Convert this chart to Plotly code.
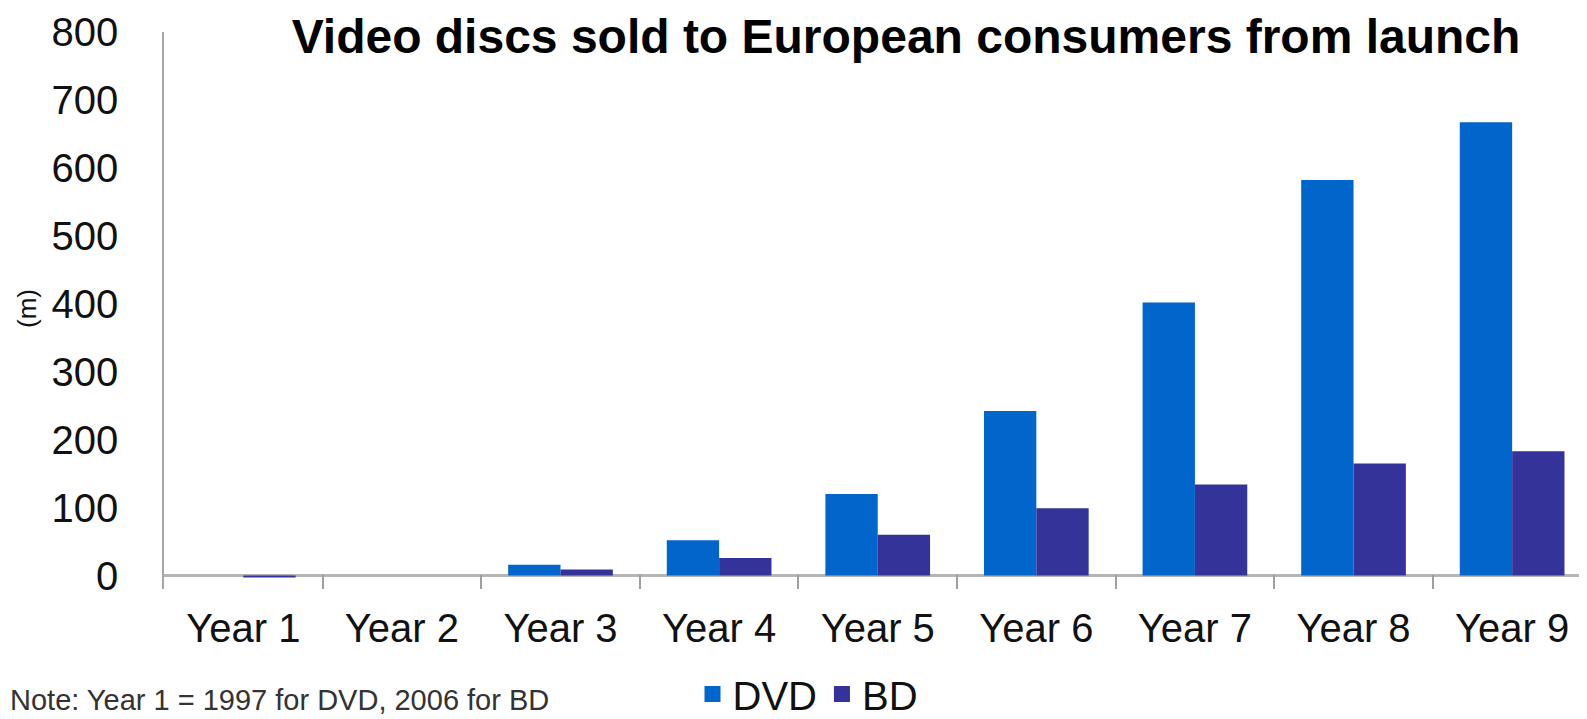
import plotly.graph_objects as go

categories = ["Year 1", "Year 2", "Year 3", "Year 4", "Year 5", "Year 6", "Year 7", "Year 8", "Year 9"]
dvd = [0, 0, 16, 52, 120, 242, 402, 582, 667]
bd = [-3, 0, 9, 26, 60, 99, 134, 165, 183]
y_ticks = [0, 100, 200, 300, 400, 500, 600, 700, 800]

title_text = "Video discs sold to European consumers from launch"
note_text = "Note: Year 1 = 1997 for DVD, 2006 for BD"
y_title = "(m)"

FONT = "Liberation Sans, Arial, sans-serif"
DVD_COLOR = "#0066CC"
BD_COLOR = "#333399"

OFF = 8  # page body margin
W, H = 1587 - OFF, 719 - OFF
ML, MT = 164 - OFF, 32 - OFF
PB = 589 - OFF          # plot bottom (figure px)
MR, MB = 0, H - PB
PW = W - ML - MR
PH = PB - MT


def py(y_page):
    """page y pixel -> paper fraction"""
    return (PB - (y_page - OFF)) / PH


def px(x_page):
    return ((x_page - OFF) - ML) / PW


fig = go.Figure()
fig.add_trace(go.Bar(x=categories, y=dvd, name="DVD", marker=dict(color=DVD_COLOR, line=dict(width=0)),
                     showlegend=False))
fig.add_trace(go.Bar(x=categories, y=bd, name="BD", marker=dict(color=BD_COLOR, line=dict(width=0)),
                     showlegend=False))
# legend entries with larger square symbols
fig.add_trace(go.Scatter(x=[None], y=[None], mode="markers", name="DVD",
                         marker=dict(symbol="square", size=16, color=DVD_COLOR)))
fig.add_trace(go.Scatter(x=[None], y=[None], mode="markers", name="BD",
                         marker=dict(symbol="square", size=16, color=BD_COLOR)))

fig.update_layout(
    width=W, height=H,
    margin=dict(l=ML, r=MR, t=MT, b=MB, pad=0, autoexpand=False),
    paper_bgcolor="white", plot_bgcolor="white",
    barmode="group", bargap=0.34, bargroupgap=0,
    font=dict(family=FONT, color="#111111", size=40),
    title=dict(text="<b>" + title_text + "</b>", x=(906 - OFF) / W, xanchor="center",
               y=1 - (36 - OFF) / H, yanchor="middle", yref="container", automargin=False,
               font=dict(family=FONT, size=48, color="#000000")),
    legend=dict(orientation="h", x=px(808), xanchor="center",
                y=py(694), yanchor="middle",
                font=dict(family=FONT, size=40, color="#111111"),
                itemsizing="trace", itemwidth=30, tracegroupgap=0),
    xaxis=dict(type="category", range=[-0.5, 8.472], tickson="boundaries", automargin=False,
               ticks="inside", ticklen=14, tickcolor="#A0A0A0", tickwidth=1.5,
               showline=False, showgrid=False, zeroline=False,
               tickfont=dict(family=FONT, size=40, color="#111111"),
               ticklabelstandoff=12),
    yaxis=dict(range=[-19.8, 800], tickvals=y_ticks, showgrid=False, automargin=False,
               showline=True, linecolor="#A6A6A6", linewidth=1.5,
               zeroline=True, zerolinecolor="#B5B5B5", zerolinewidth=2.5,
               ticks="", ticklabelstandoff=36,
               tickfont=dict(family=FONT, size=40, color="#111111")),
    annotations=[
        dict(text=note_text, xref="paper", yref="paper", x=px(OFF + 1), xanchor="left",
             y=py(717), yanchor="bottom", showarrow=False, borderpad=0,
             font=dict(family=FONT, size=29, color="#333333")),
        dict(text=y_title, xref="paper", yref="paper", x=px(27), xanchor="center",
             y=py(309), yanchor="middle", showarrow=False, textangle=-90,
             font=dict(family=FONT, size=26, color="#111111")),
    ],
)

fig.write_html("out.html")
